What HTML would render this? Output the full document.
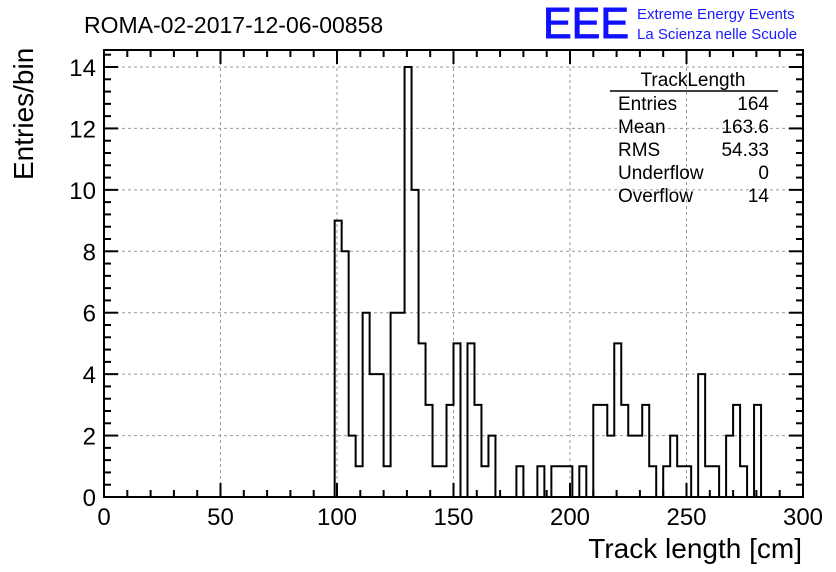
<!DOCTYPE html>
<html><head><meta charset="utf-8"><style>
body{margin:0;background:#fff;}
svg{display:block;font-family:"Liberation Sans",sans-serif;}
</style></head><body>
<svg id="c" width="836" height="572" viewBox="0 0 836 572">
<rect width="836" height="572" fill="#fff"/>
<text x="84" y="33" font-size="23">ROMA-02-2017-12-06-00858</text>
<text x="543" y="38" font-size="44" fill="#1010ff" stroke="#1010ff" stroke-width="1" textLength="86" lengthAdjust="spacingAndGlyphs">EEE</text>
<text x="637" y="19" font-size="15" fill="#1a1aff">Extreme Energy Events</text>
<text x="637" y="39" font-size="15" fill="#1a1aff">La Scienza nelle Scuole</text>
<g id="grid"></g>
<g id="hist"></g>
<g id="axes"></g>
<g font-size="19">
<text x="693" y="86" text-anchor="middle">TrackLength</text>
<line x1="610" y1="91" x2="778" y2="91" stroke="#000" stroke-width="1.5"/>
<text x="618" y="110">Entries</text><text x="769" y="110" text-anchor="end">164</text>
<text x="618" y="133">Mean</text><text x="769" y="133" text-anchor="end">163.6</text>
<text x="618" y="156">RMS</text><text x="769" y="156" text-anchor="end">54.33</text>
<text x="618" y="179">Underflow</text><text x="769" y="179" text-anchor="end">0</text>
<text x="618" y="202">Overflow</text><text x="769" y="202" text-anchor="end">14</text>
</g>
<text x="802" y="558" font-size="28" text-anchor="end">Track length [cm]</text>
<text transform="translate(33,180) rotate(-90)" font-size="28">Entries/bin</text>
</svg>
<script>
const binStart = 99;
const binWidth = 3;
const counts = [9,8,2,1,6,4,4,1,6,6,14,10,5,3,1,1,3,5,0,5,3,1,2,0,0,0,1,0,0,1,0,1,1,1,0,1,0,3,3,2,5,3,2,2,3,1,0,1,2,1,1,0,4,1,1,0,2,3,1,0,3];
const xTicks = [0,50,100,150,200,250,300];
const yTicks = [0,2,4,6,8,10,12,14];
const X0=104,X1=803,Y0=497,Y1=67;
const sx=v=>X0+(v-0)/300*(X1-X0);
const sy=v=>Y0-(v/14)*(Y0-Y1);
const NS="http://www.w3.org/2000/svg";
function mk(t,a,p){const e=document.createElementNS(NS,t);for(const k in a)e.setAttribute(k,a[k]);p.appendChild(e);return e;}
const grid=document.getElementById('grid'),hist=document.getElementById('hist'),axes=document.getElementById('axes');
xTicks.forEach(v=>{if(v>0&&v<300){const l=mk('line',{x1:sx(v),x2:sx(v),y1:Y1-17,y2:Y0,stroke:'#999','stroke-dasharray':'3,3'},grid);

}});
yTicks.forEach(v=>{if(v>0){const l=mk('line',{x1:X0,x2:X1,y1:sy(v),y2:sy(v),stroke:'#999','stroke-dasharray':'3,3'},grid);

}});
let d='M'+sx(binStart)+','+sy(0);
counts.forEach((c,i)=>{const a=binStart+i*binWidth,b=a+binWidth;d+=' L'+sx(a)+','+sy(c)+' L'+sx(b)+','+sy(c);});
d+=' L'+sx(binStart+counts.length*binWidth)+','+sy(0);
const p=mk('path',{d:d,fill:'none',stroke:'#000','stroke-width':2},hist);


const TOP=50;
const frame=mk('rect',{x:X0,y:TOP,width:X1-X0,height:Y0-TOP,fill:'none',stroke:'#000','stroke-width':2},axes);


for(let v=0;v<=300;v+=10){const L=(v%50===0)?14:7;
mk('line',{x1:sx(v),x2:sx(v),y1:Y0,y2:Y0-L,stroke:'#000','stroke-width':2},axes);
mk('line',{x1:sx(v),x2:sx(v),y1:TOP,y2:TOP+L,stroke:'#000','stroke-width':2},axes);}
for(let v=0;v<=15.2;v+=0.4){const y=sy(v);if(y<TOP-0.5)break;const maj=Math.abs(v/2-Math.round(v/2))<1e-6;const L=maj?14:7;
mk('line',{x1:X0,x2:X0+L,y1:y,y2:y,stroke:'#000','stroke-width':2},axes);
mk('line',{x1:X1,x2:X1-L,y1:y,y2:y,stroke:'#000','stroke-width':2},axes);}
xTicks.forEach(v=>{const t=mk('text',{x:sx(v),y:Y0+28,'font-size':24,'text-anchor':'middle'},axes);t.textContent=v;

});
yTicks.forEach(v=>{const t=mk('text',{x:X0-8,y:sy(v)+9,'font-size':24,'text-anchor':'end'},axes);t.textContent=v;

});
</script>
</body></html>
